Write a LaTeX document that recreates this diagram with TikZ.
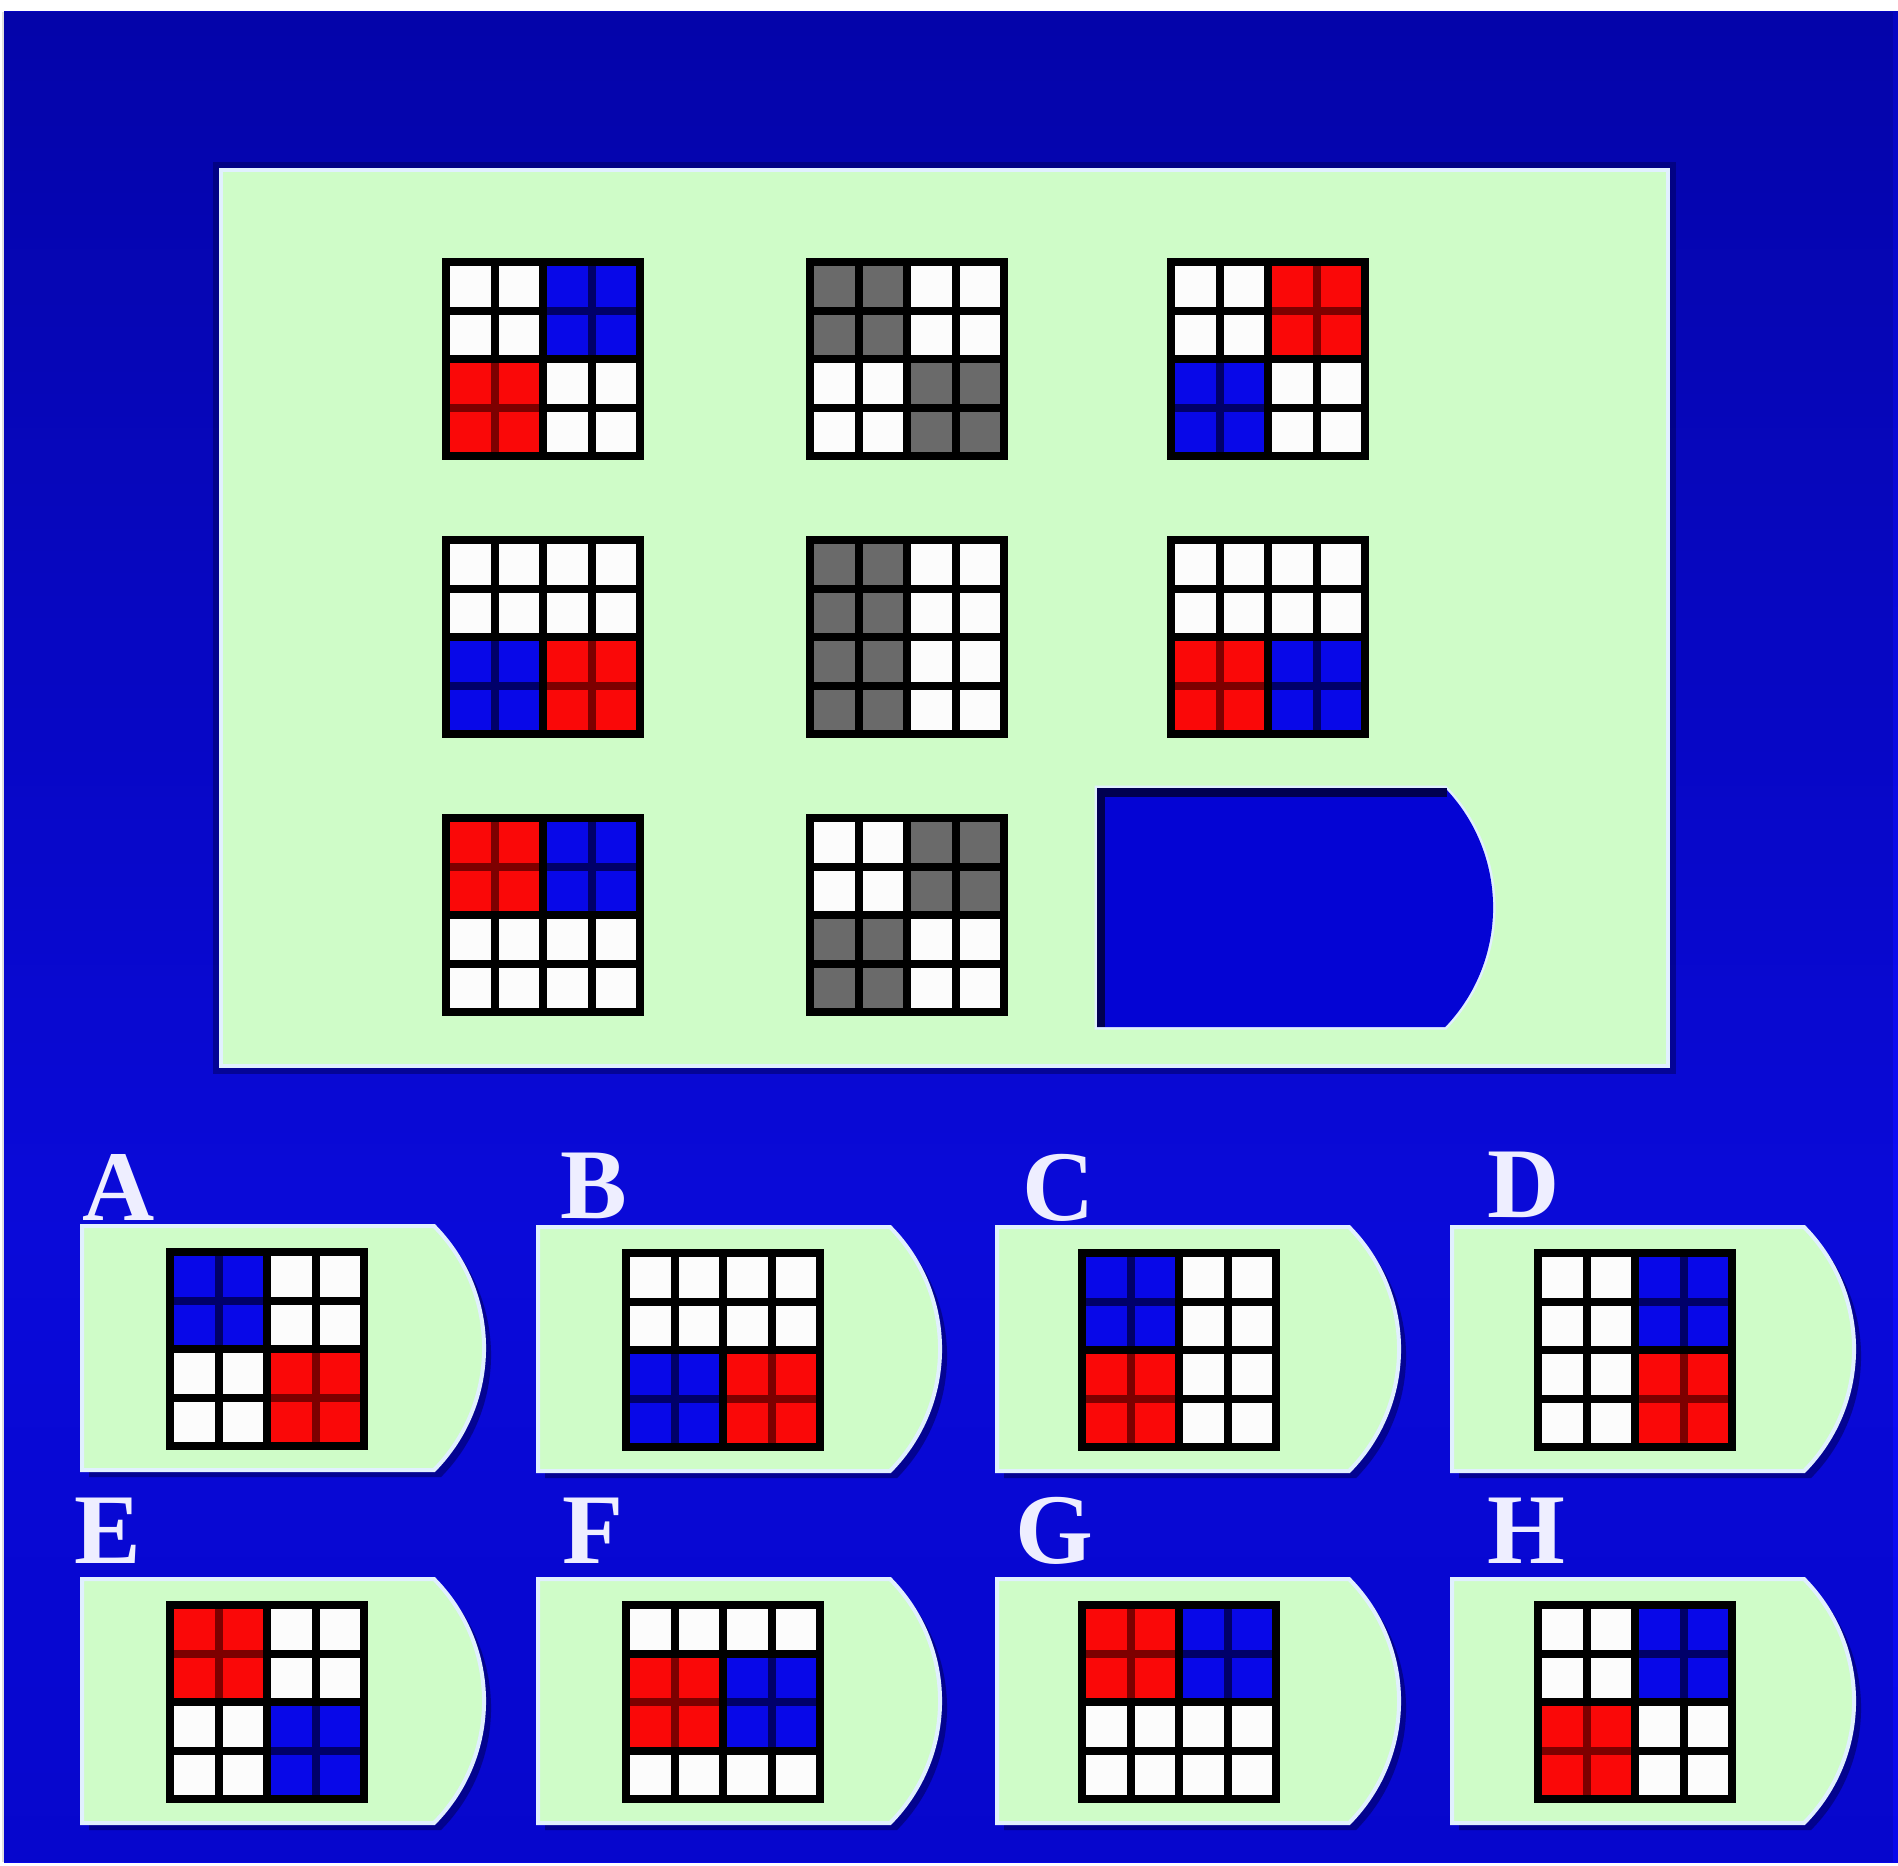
\documentclass[tikz,border=0pt]{standalone}
\usepackage{fontspec}
\setmainfont{Liberation Serif}
\usetikzlibrary{fadings}
\definecolor{bgtop}{RGB}{0,0,152}
\definecolor{bgmid}{RGB}{12,12,248}
\definecolor{bgbot}{RGB}{0,0,212}
\definecolor{panel}{RGB}{207,252,200}
\definecolor{edgec}{RGB}{225,240,255}
\definecolor{shadowc}{RGB}{0,0,90}
\definecolor{wt}{RGB}{252,252,252}
\definecolor{rd}{RGB}{250,8,8}
\definecolor{bl}{RGB}{8,8,232}
\definecolor{gy}{RGB}{106,106,106}
\definecolor{drd}{RGB}{125,0,0}
\definecolor{dbl}{RGB}{0,0,105}
\definecolor{hole}{RGB}{4,4,212}
\definecolor{holedark}{RGB}{0,0,80}
\definecolor{lblc}{RGB}{238,238,255}
\pgfdeclareverticalshading{bgshade}{100bp}{color(0bp)=(bgbot); color(42bp)=(bgmid); color(100bp)=(bgtop)}
\tikzfading[name=sidefade, left color=transparent!0, middle color=transparent!100, right color=transparent!0]
\newcommand\mgrid[4]{%
  \fill[black] (#1,#2) rectangle ++(202,202);
  \foreach \bi/\bj/\bc in {#3} {\fill[\bc] ({#1+8+\bj*48.5},{#2+8+\bi*48.5}) rectangle ++(89,89);}
  \foreach \cc [count=\k from 0] in {#4} {%
    \pgfmathtruncatemacro\rr{div(\k,4)}%
    \pgfmathtruncatemacro\qq{mod(\k,4)}%
    \fill[\cc] ({#1+8+\qq*48.5},{#2+8+\rr*48.5}) rectangle ++(40.5,40.5);}
}
\newcommand\optpanel[2]{%
  \fill[shadowc, opacity=.55] ({#1+7},{#2+7}) -- ++(352,0) arc[start angle=44.6, end angle=-44.6, radius=86.9pt] -- ({#1+7},{#2+251}) -- cycle;
  \filldraw[fill=panel, draw=edgec, line width=2pt] (#1,#2) -- ++(352,0) arc[start angle=44.6, end angle=-44.6, radius=86.9pt] -- (#1,{#2+244}) -- cycle;
}
\tikzset{lbl/.style={anchor=base west, inner sep=0pt, text=lblc, font=\bfseries\fontsize{50}{50}\selectfont}}
\begin{document}
\begin{tikzpicture}[x=0.5pt,y=-0.5pt]
\useasboundingbox (0,0) rectangle (1898,1865);
\fill[white] (0,0) rectangle (1898,1865);
\shade[shading=bgshade] (4,11) rectangle (1898,1862);
\fill[black, opacity=.12, path fading=sidefade] (4,11) rectangle (1898,1862);
% main panel
\fill[shadowc, opacity=.5] (213,162) rectangle (1676,1074);
\filldraw[fill=panel, draw=edgec, line width=2pt] (221,170) rectangle (1668,1066);
% matrix grids
\mgrid{442}{258}{0/2/dbl,2/0/drd}{wt,wt,bl,bl,wt,wt,bl,bl,rd,rd,wt,wt,rd,rd,wt,wt}
\mgrid{806}{258}{0/0/black}{gy,gy,wt,wt,gy,gy,wt,wt,wt,wt,gy,gy,wt,wt,gy,gy}
\mgrid{1167}{258}{0/2/drd,2/0/dbl}{wt,wt,rd,rd,wt,wt,rd,rd,bl,bl,wt,wt,bl,bl,wt,wt}
\mgrid{442}{536}{2/0/dbl,2/2/drd}{wt,wt,wt,wt,wt,wt,wt,wt,bl,bl,rd,rd,bl,bl,rd,rd}
\mgrid{806}{536}{0/0/black}{gy,gy,wt,wt,gy,gy,wt,wt,gy,gy,wt,wt,gy,gy,wt,wt}
\mgrid{1167}{536}{2/0/drd,2/2/dbl}{wt,wt,wt,wt,wt,wt,wt,wt,rd,rd,bl,bl,rd,rd,bl,bl}
\mgrid{442}{814}{0/0/drd,0/2/dbl}{rd,rd,bl,bl,rd,rd,bl,bl,wt,wt,wt,wt,wt,wt,wt,wt}
\mgrid{806}{814}{0/0/black}{wt,wt,gy,gy,wt,wt,gy,gy,gy,gy,wt,wt,gy,gy,wt,wt}
% empty answer slot
\draw[edgec, line width=2.5pt] (1097,788) -- ++(348,0) arc[start angle=43.8, end angle=-43.8, radius=86.4pt] -- (1097,1027) -- cycle;
\fill[hole] (1097,788) -- ++(348,0) arc[start angle=43.8, end angle=-43.8, radius=86.4pt] -- (1097,1027) -- cycle;
\fill[holedark] (1097,788) rectangle (1447,797);
\fill[holedark] (1097,788) rectangle (1105,1027);
% options
\optpanel{82}{1226}
\optpanel{538}{1227}
\optpanel{997}{1227}
\optpanel{1452}{1227}
\optpanel{82}{1579}
\optpanel{538}{1579}
\optpanel{997}{1579}
\optpanel{1452}{1579}
\mgrid{166}{1248}{0/0/dbl,2/2/drd}{bl,bl,wt,wt,bl,bl,wt,wt,wt,wt,rd,rd,wt,wt,rd,rd}
\mgrid{622}{1249}{2/0/dbl,2/2/drd}{wt,wt,wt,wt,wt,wt,wt,wt,bl,bl,rd,rd,bl,bl,rd,rd}
\mgrid{1078}{1249}{0/0/dbl,2/0/drd}{bl,bl,wt,wt,bl,bl,wt,wt,rd,rd,wt,wt,rd,rd,wt,wt}
\mgrid{1534}{1249}{0/2/dbl,2/2/drd}{wt,wt,bl,bl,wt,wt,bl,bl,wt,wt,rd,rd,wt,wt,rd,rd}
\mgrid{166}{1601}{0/0/drd,2/2/dbl}{rd,rd,wt,wt,rd,rd,wt,wt,wt,wt,bl,bl,wt,wt,bl,bl}
\mgrid{622}{1601}{1/0/drd,1/2/dbl}{wt,wt,wt,wt,rd,rd,bl,bl,rd,rd,bl,bl,wt,wt,wt,wt}
\mgrid{1078}{1601}{0/0/drd,0/2/dbl}{rd,rd,bl,bl,rd,rd,bl,bl,wt,wt,wt,wt,wt,wt,wt,wt}
\mgrid{1534}{1601}{0/2/dbl,2/0/drd}{wt,wt,bl,bl,wt,wt,bl,bl,rd,rd,wt,wt,rd,rd,wt,wt}
% labels
\node[lbl] (lA) at (82,1220) {A};
\node[lbl] (lB) at (560,1218) {B};
\node[lbl] (lC) at (1022,1220) {C};
\node[lbl] (lD) at (1487,1217) {D};
\node[lbl] (lE) at (74,1563) {E};
\node[lbl] (lF) at (562,1563) {F};
\node[lbl] (lG) at (1015,1563) {G};
\node[lbl] (lH) at (1487,1563) {H};
\end{tikzpicture}
\end{document}
